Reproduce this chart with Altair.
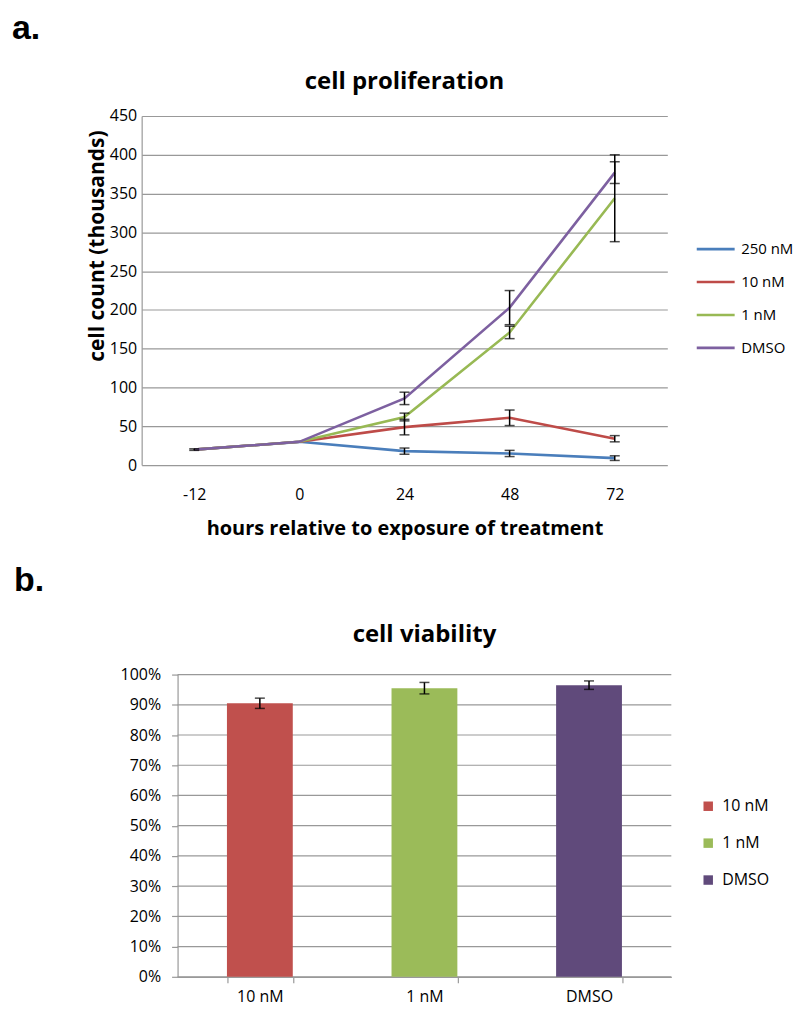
import altair as alt
import pandas as pd

# ---------------- data ----------------
hours = ["-12", "0", "24", "48", "72"]
series = ["250 nM", "10 nM", "1 nM", "DMSO"]
count_250 = [20, 30, 18, 15, 9]
err_250 = [0, 0, 4, 4, 3]
count_10 = [20, 30, 49, 61, 34]
err_10 = [0, 0, 10, 10, 4]
count_1 = [20, 30, 62, 171, 344]
err_1 = [0, 0, 5, 8, 56]
count_dmso = [20, 30, 86, 203, 377]
err_dmso = [1, 0, 8, 22, 14]
count_ticks = list(range(0, 451, 50))
line_colors = ["#4A7EBB", "#BE4B48", "#98B954", "#7D60A0"]

via_cats = ["10 nM", "1 nM", "DMSO"]
via_vals = [0.905, 0.955, 0.965]
via_errs = [0.017, 0.019, 0.014]
via_ticks = [i / 10 for i in range(11)]
bar_colors = ["#C0504D", "#9BBB59", "#604A7B"]

panel_labels = ["a.", "b."]
chart_titles = ["cell proliferation", "cell viability"]

FONT = "Open Sans"
GRID = "#999999"

rows = []
for s, vals, errs in zip(series, [count_250, count_10, count_1, count_dmso],
                         [err_250, err_10, err_1, err_dmso]):
    for h, v, e in zip(hours, vals, errs):
        rows.append(dict(hours=h, series=s, value=v, lo=v - e, hi=v + e, err=e))
df = pd.DataFrame(rows)
df_err = df[df["err"] > 0]

vdf = pd.DataFrame({
    "cat": via_cats,
    "v": via_vals,
    "lo": [v - e for v, e in zip(via_vals, via_errs)],
    "hi": [v + e for v, e in zip(via_vals, via_errs)],
})
gdf = pd.DataFrame({"g": via_ticks})

# ---------------- top chart ----------------
TW, TH = 527, 350
x_axis = alt.Axis(title="hours relative to exposure of treatment", labelAngle=0,
                  ticks=False, tickSize=0, domain=False, grid=False, labelPadding=21,
                  titlePadding=17, labelFontSize=16, titleFontSize=20,
                  titleFontWeight="bold", labelFont=FONT, titleFont=FONT,
                  labelColor="#000", titleColor="#000")
y_axis = alt.Axis(title="cell count (thousands)", values=count_ticks,
                  ticks=False, tickSize=0, domain=True, domainColor=GRID, grid=True,
                  gridColor=GRID, gridWidth=1.2, domainWidth=1.2, labelPadding=5,
                  titlePadding=2, titleY=130, labelFontSize=16, titleFontSize=21,
                  titleFontWeight="bold", labelFont=FONT, titleFont=FONT,
                  labelColor="#000", titleColor="#000")
xs = alt.Scale(type="point", padding=0.5, domain=hours)
ys = alt.Scale(domain=[0, 450], nice=False)


def X():
    return alt.X("hours:O", sort=hours, scale=xs, axis=x_axis)


lines = alt.Chart(df).mark_line(strokeWidth=2.6).encode(
    x=X(),
    y=alt.Y("value:Q", scale=ys, axis=y_axis),
    color=alt.Color("series:N", sort=series,
                    scale=alt.Scale(domain=series, range=line_colors),
                    legend=alt.Legend(title=None, orient="none", legendX=555, legendY=113,
                                      symbolType="M-1,0L1,0", symbolSize=1444,
                                      symbolStrokeWidth=2.6, labelFontSize=15,
                                      labelFont=FONT, labelColor="#000",
                                      rowPadding=4, labelOffset=5)),
)
rules = alt.Chart(df_err).mark_rule(color="black", strokeWidth=1.5).encode(
    x=X(), y=alt.Y("lo:Q", scale=ys, axis=y_axis), y2="hi:Q")
cap_lo = alt.Chart(df_err).mark_tick(color="black", thickness=1.5, size=10,
                                     orient="horizontal").encode(
    x=X(), y=alt.Y("lo:Q", scale=ys, axis=y_axis))
cap_hi = alt.Chart(df_err).mark_tick(color="black", thickness=1.5, size=10,
                                     orient="horizontal").encode(
    x=X(), y=alt.Y("hi:Q", scale=ys, axis=y_axis))
lab_a = alt.Chart(pd.DataFrame({"t": [panel_labels[0]]})).mark_text(
    font="Liberation Sans", fontWeight="bold", fontSize=34, align="left",
    baseline="alphabetic", color="#000").encode(
    text="t:N", x=alt.value(-130), y=alt.value(-77))
title_a = alt.Chart(pd.DataFrame({"t": [chart_titles[0]]})).mark_text(
    font=FONT, fontWeight="bold", fontSize=24, align="center",
    baseline="alphabetic", color="#000").encode(
    text="t:N", x=alt.value(TW / 2), y=alt.value(-27))

top = alt.layer(lines, rules, cap_lo, cap_hi, lab_a, title_a).properties(
    width=TW, height=TH)

# ---------------- bottom chart ----------------
# bottom plot area starts 36px to the right of the top one
SHIFT = 36
BW, BH = 531, 303
bx_axis = alt.Axis(title=None, labelAngle=0, tickBand="extent", ticks=True, tickSize=6,
                   tickColor=GRID, tickWidth=1.2, domain=True, domainColor=GRID,
                   domainWidth=1.2, grid=False, labelPadding=6, labelFontSize=16,
                   labelFont=FONT, labelColor="#000")
by_axis = alt.Axis(title=None, values=via_ticks, format=".0%", offset=-SHIFT,
                   ticks=True, tickSize=6, tickColor=GRID, tickWidth=1.2, domain=True,
                   domainColor=GRID, domainWidth=1.2, grid=False,
                   labelPadding=11, labelFontSize=16, labelFont=FONT, labelColor="#000")
bxs = alt.Scale(domain=via_cats, range=[SHIFT, BW], paddingInner=0.6, paddingOuter=0.3)
bys = alt.Scale(domain=[0, 1], nice=False)


def BX():
    return alt.X("cat:N", sort=via_cats, scale=bxs, axis=bx_axis)


grid_b = alt.Chart(gdf).mark_rule(color=GRID, strokeWidth=1.2).encode(
    y=alt.Y("g:Q", scale=bys, axis=by_axis), x=alt.value(SHIFT), x2=alt.value(BW))
bars = alt.Chart(vdf).mark_bar().encode(
    x=BX(),
    y=alt.Y("v:Q", scale=bys, axis=by_axis),
    color=alt.Color("cat:N", sort=via_cats,
                    scale=alt.Scale(domain=via_cats, range=bar_colors),
                    legend=alt.Legend(title=None, orient="none", legendX=560, legendY=124,
                                      symbolType="square", symbolSize=90,
                                      symbolStrokeWidth=0, labelFontSize=16,
                                      labelFont=FONT, labelColor="#000",
                                      rowPadding=21, labelOffset=6)),
)
brules = alt.Chart(vdf).mark_rule(color="black", strokeWidth=1.5).encode(
    x=BX(), y=alt.Y("lo:Q", scale=bys, axis=by_axis), y2="hi:Q")
bcap_lo = alt.Chart(vdf).mark_tick(color="black", thickness=1.5, size=10,
                                   orient="horizontal").encode(
    x=BX(), y=alt.Y("lo:Q", scale=bys, axis=by_axis))
bcap_hi = alt.Chart(vdf).mark_tick(color="black", thickness=1.5, size=10,
                                   orient="horizontal").encode(
    x=BX(), y=alt.Y("hi:Q", scale=bys, axis=by_axis))
lab_b = alt.Chart(pd.DataFrame({"t": [panel_labels[1]]})).mark_text(
    font="Liberation Sans", fontWeight="bold", fontSize=34, align="left",
    baseline="alphabetic", color="#000").encode(
    text="t:N", x=alt.value(-128), y=alt.value(-84))
title_b = alt.Chart(pd.DataFrame({"t": [chart_titles[1]]})).mark_text(
    font=FONT, fontWeight="bold", fontSize=24, align="center",
    baseline="alphabetic", color="#000").encode(
    text="t:N", x=alt.value((SHIFT + BW) / 2), y=alt.value(-33))

bottom = alt.layer(grid_b, bars, brules, bcap_lo, bcap_hi, lab_b, title_b).properties(
    width=BW, height=BH)

chart = alt.vconcat(top, bottom, spacing=25).resolve_scale(
    color="independent", x="independent", y="independent"
).configure_view(stroke=None).properties(
    padding={"left": 4, "top": 3, "right": 0, "bottom": 0})

chart.save("out.html", embed_options={"renderer": "svg", "actions": False})
